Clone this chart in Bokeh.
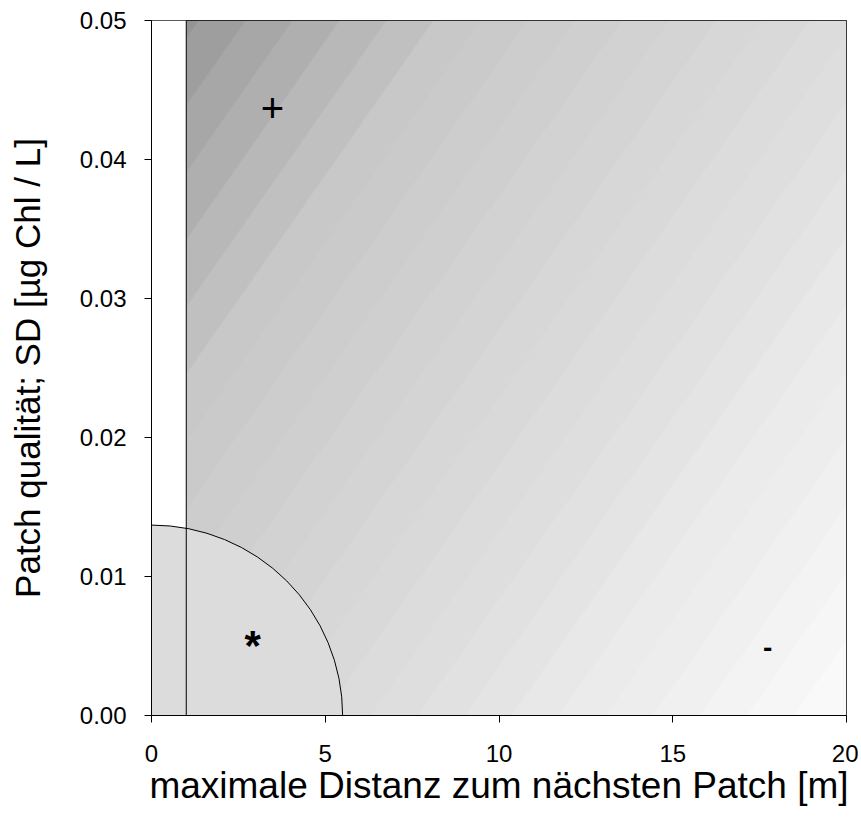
import numpy as np
from bokeh.plotting import figure
from bokeh.models import FixedTicker, PrintfTickFormatter, Range1d
from bokeh.core.properties import value
from bokeh.embed import file_html
from bokeh.resources import INLINE

# --- data -------------------------------------------------------------
x_ticks = [0, 5, 10, 15, 20]
y_ticks = [0.00, 0.01, 0.02, 0.03, 0.04, 0.05]
x_range = (0, 20)
y_range = (0, 0.05)

strip_x = [0, 1]                 # white strip (x from 0 to 1)
divider_x = 1                    # vertical line
ellipse_rx = 5.5                 # quarter-ellipse radius along x
ellipse_ry = 0.0137              # quarter-ellipse radius along y

marker_text = ["+", "*", "-"]
marker_x = [3.48, 2.91, 17.73]
marker_y = [0.0437, 0.0055, 0.0049]

# background shading: grey level along the diagonal gradient (screen px)
gradient_t = [0, 60, 300, 530, 700, 900, 1160]
gradient_gray = [143, 157, 200, 212, 221, 234, 250]
band_width = 47
stripe_slope = 1.43

# --- figure -----------------------------------------------------------
FW, FH = 695, 695
p = figure(width=858, height=825, output_backend="svg", toolbar_location=None,
           x_range=Range1d(*x_range), y_range=Range1d(*y_range),
           min_border_left=151, min_border_top=20, min_border_right=12,
           min_border_bottom=110)
p.frame_width = FW
p.frame_height = FH

# background gradient image
jj = np.arange(FW) + 0.5
ii = np.arange(FH) + 0.5
X, Ytop = np.meshgrid(jj, FH - ii)
t = X + Ytop / stripe_slope
tb = (np.floor(t / band_width) + 0.5) * band_width
g = np.clip(np.interp(tb, gradient_t, gradient_gray), 0, 255).astype(np.uint32)
img = (255 << 24) | (g << 16) | (g << 8) | g
img = img.astype(np.uint32)
p.image_rgba(image=[img], x=x_range[0], y=y_range[0],
             dw=x_range[1] - x_range[0], dh=y_range[1] - y_range[0])

# white strip
p.quad(left=strip_x[0], right=strip_x[1], bottom=y_range[0], top=y_range[1],
       fill_color="white", line_color=None)

# quarter ellipse
p.ellipse(x=0, y=0, width=2 * ellipse_rx, height=2 * ellipse_ry,
          fill_color="#dcdcdc", line_color="black", line_width=1)

# vertical divider
p.segment(x0=divider_x, y0=y_range[0], x1=divider_x, y1=y_range[1],
          line_color="black", line_width=1)

# symbols
p.text(x=marker_x[:1], y=marker_y[:1], text=marker_text[:1],
       text_font=value("Liberation Sans"), text_font_size="40px",
       text_align="center", text_baseline="middle", text_color="black")
p.text(x=marker_x[1:2], y=marker_y[1:2], text=marker_text[1:2],
       text_font=value("Liberation Sans"), text_font_size="42px", text_font_style="bold",
       text_align="center", text_baseline="middle", text_color="black", y_offset=6)
p.text(x=marker_x[2:], y=marker_y[2:], text=marker_text[2:],
       text_font=value("Liberation Sans"), text_font_size="28px", text_font_style="bold",
       text_align="center", text_baseline="middle", text_color="black")

# axes styling
p.grid.visible = False
p.outline_line_color = "black"
p.outline_line_width = 1
p.background_fill_color = "white"
p.border_fill_color = "white"

for ax in (p.xaxis, p.yaxis):
    ax.axis_line_color = "black"
    ax.major_tick_line_color = "black"
    ax.major_tick_in = 0
    ax.major_tick_out = 7
    ax.minor_tick_line_color = None
    ax.major_label_text_font = "Liberation Sans"
    ax.major_label_text_font_size = "24px"
    ax.major_label_text_color = "black"
    ax.axis_label_text_font = "Liberation Sans"
    ax.axis_label_text_font_style = "normal"
    ax.axis_label_text_color = "black"

p.xaxis.axis_label_text_font_size = "37px"
p.yaxis.axis_label_text_font_size = "35px"
p.xaxis.ticker = FixedTicker(ticks=x_ticks)
p.yaxis.ticker = FixedTicker(ticks=y_ticks)
p.yaxis.formatter = PrintfTickFormatter(format="%.2f")
p.yaxis.major_label_orientation = "horizontal"
p.xaxis.major_label_standoff = 22
p.yaxis.major_label_standoff = 18
p.xaxis.axis_label = "maximale Distanz zum nächsten Patch [m]"
p.yaxis.axis_label = "Patch qualität; SD [µg Chl / L]"
p.xaxis.axis_label_standoff = 0
p.yaxis.axis_label_standoff = 30

open("out.html", "w").write(file_html(p, INLINE))
